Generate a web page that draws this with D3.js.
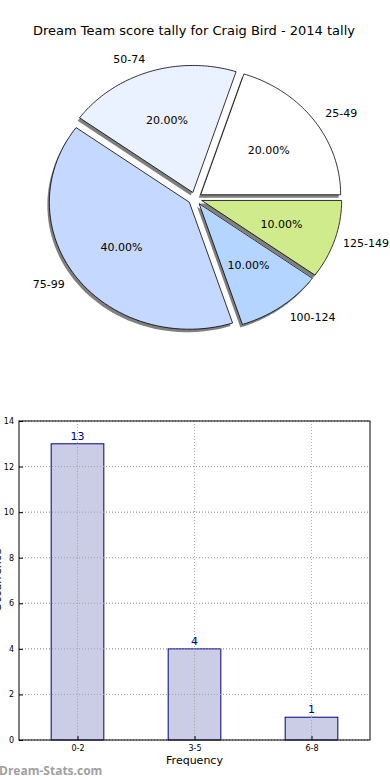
<!DOCTYPE html>
<html>
<head>
<meta charset="utf-8">
<script src="https://cdn.jsdelivr.net/npm/d3@7"></script>
<style>
  body { margin: 0; background: #fff; }
  svg { display: block; font-family: "DejaVu Sans", sans-serif; }
</style>
</head>
<body>
<svg id="chart" width="390" height="780"></svg>
<script>
const pieLabels = ["25-49", "50-74", "75-99", "100-124", "125-149"];
const pieValues = [2, 2, 4, 1, 1];
const pieColors = ["#ffffff", "#eaf1ff", "#c5d8ff", "#b4d5ff", "#cfeb8b"];

const barCats = ["0-2", "3-5", "6-8"];
const barValues = [13, 4, 1];
const yTicks = [0, 2, 4, 6, 8, 10, 12, 14];

const svg = d3.select("#chart");

svg.append("text")
  .attr("x", 194).attr("y", 35)
  .attr("text-anchor", "middle")
  .attr("font-size", 13)
  .text("Dream Team score tally for Craig Bird - 2014 tally");

// pie (axes not equal aspect, so it's an ellipse)
const cx = 195, cy = 198.5, rx = 140, ry = 127, explode = 0.05;
const total = d3.sum(pieValues);
const pie = d3.pie().sort(null).value(d => d)
  .startAngle(Math.PI / 2).endAngle(Math.PI / 2 - 2 * Math.PI);
const arcs = pie(pieValues);

// draws a wedge in unit coords, angle measured counterclockwise from east
function wedgePath(a0, a1, ox, oy) {
  const p = d3.path();
  const sx = t => cx + ox + rx * Math.cos(t);
  const sy = t => cy + oy - ry * Math.sin(t);
  p.moveTo(cx + ox, cy + oy);
  p.lineTo(sx(a0), sy(a0));
  const n = 60;
  for (let i = 1; i <= n; i++) {
    const t = a0 + (a1 - a0) * i / n;
    p.lineTo(sx(t), sy(t));
  }
  p.closePath();
  return p.toString();
}

const wedges = arcs.map((d, i) => {
  // convert d3 angles back to math angles
  const a0 = Math.PI / 2 - d.startAngle;
  const a1 = Math.PI / 2 - d.endAngle;
  const mid = (a0 + a1) / 2;
  return { i, a0, a1, mid, ox: explode * rx * Math.cos(mid), oy: -explode * ry * Math.sin(mid) };
});

const gPie = svg.append("g");
gPie.selectAll(".shadow").data(wedges).join("path")
  .attr("d", w => wedgePath(w.a0, w.a1, w.ox - 2, w.oy + 3))
  .attr("fill", "#000").attr("fill-opacity", 0.5).attr("stroke", "none");
gPie.selectAll(".wedge").data(wedges).join("path")
  .attr("d", w => wedgePath(w.a0, w.a1, w.ox, w.oy))
  .attr("fill", w => pieColors[w.i])
  .attr("stroke", "#000").attr("stroke-width", 0.8);

gPie.selectAll(".pct").data(wedges).join("text")
  .attr("x", w => cx + w.ox + 0.6 * rx * Math.cos(w.mid))
  .attr("y", w => cy + w.oy - 0.6 * ry * Math.sin(w.mid))
  .attr("dy", "0.35em")
  .attr("text-anchor", "middle")
  .attr("font-size", 11)
  .text(w => (100 * pieValues[w.i] / total).toFixed(2) + "%");

gPie.selectAll(".lbl").data(wedges).join("text")
  .attr("x", w => cx + w.ox + 1.1 * rx * Math.cos(w.mid))
  .attr("y", w => cy + w.oy - 1.1 * ry * Math.sin(w.mid))
  .attr("dy", "0.35em")
  .attr("text-anchor", w => Math.cos(w.mid) > 0 ? "start" : "end")
  .attr("font-size", 11)
  .text(w => pieLabels[w.i])
  .each(function () {
    // keep right-side labels inside the figure
    const t = d3.select(this);
    if (t.attr("text-anchor") === "start") {
      const len = this.getComputedTextLength();
      t.attr("x", Math.min(+t.attr("x"), 389 - len));
    }
  });

// bar chart
const L = 19, R = 370, T = 421, B = 740;
const x = d3.scaleLinear().domain([-0.5, 2.5]).range([L, R]);
const y = d3.scaleLinear().domain([0, 14]).range([B, T]);
const bw = 0.45;

const gBar = svg.append("g");
gBar.selectAll(".hgrid").data(yTicks).join("line")
  .attr("x1", L).attr("x2", R)
  .attr("y1", d => y(d)).attr("y2", d => y(d))
  .attr("stroke", "#b0b0b0").attr("stroke-dasharray", "1,2");
gBar.selectAll(".vgrid").data(barCats).join("line")
  .attr("x1", (d, i) => x(i)).attr("x2", (d, i) => x(i))
  .attr("y1", T).attr("y2", B)
  .attr("stroke", "#b0b0b0").attr("stroke-dasharray", "1,2");

gBar.selectAll(".bar").data(barValues).join("rect")
  .attr("x", (d, i) => x(i - bw / 2))
  .attr("width", x(bw) - x(0))
  .attr("y", d => y(d))
  .attr("height", d => B - y(d))
  .attr("fill", "#cbcce6").attr("stroke", "#000080").attr("stroke-width", 1);

// grid drawn over bars as well (matplotlib default here)
gBar.selectAll(".vgrid2").data(barValues).join("line")
  .attr("x1", (d, i) => x(i)).attr("x2", (d, i) => x(i))
  .attr("y1", d => y(d)).attr("y2", B)
  .attr("stroke", "#a0a0a8").attr("stroke-dasharray", "1,2");
gBar.selectAll(".hgrid2").data(yTicks).join("line")
  .attr("x1", L).attr("x2", R)
  .attr("y1", d => y(d)).attr("y2", d => y(d))
  .attr("stroke", "#a0a0a8").attr("stroke-dasharray", "1,2");

gBar.selectAll(".val").data(barValues).join("text")
  .attr("x", (d, i) => x(i))
  .attr("y", d => y(d) - 4)
  .attr("text-anchor", "middle")
  .attr("font-size", 11)
  .attr("fill", "#000080")
  .text(d => d);

gBar.append("rect")
  .attr("x", L).attr("y", T).attr("width", R - L).attr("height", B - T)
  .attr("fill", "none").attr("stroke", "#000").attr("stroke-width", 1);

const yAxis = gBar.append("g").attr("transform", `translate(${L},0)`)
  .call(d3.axisLeft(y).tickValues(yTicks).tickSize(-4).tickPadding(5));
const xAxis = gBar.append("g").attr("transform", `translate(0,${B})`)
  .call(d3.axisBottom(x).tickValues([0, 1, 2]).tickFormat(i => barCats[i]).tickSize(-4).tickPadding(5));
[yAxis, xAxis].forEach(a => {
  a.select(".domain").remove();
  a.selectAll("text").attr("font-size", 8).attr("font-family", "DejaVu Sans, sans-serif");
});

svg.append("text")
  .attr("x", x(1)).attr("y", 764)
  .attr("text-anchor", "middle")
  .attr("font-size", 11)
  .text("Frequency");

// y label sits mostly outside the figure in the original
svg.append("text")
  .attr("transform", "translate(1,580) rotate(-90)")
  .attr("text-anchor", "middle")
  .attr("font-size", 11)
  .text("Occurrence");

svg.append("text")
  .attr("x", -1).attr("y", 775)
  .attr("font-size", 12)
  .attr("font-weight", "bold")
  .attr("fill", "#a0a0a0")
  .attr("font-family", "Open Sans, sans-serif")
  .text("Dream-Stats.com");
</script>
</body>
</html>
